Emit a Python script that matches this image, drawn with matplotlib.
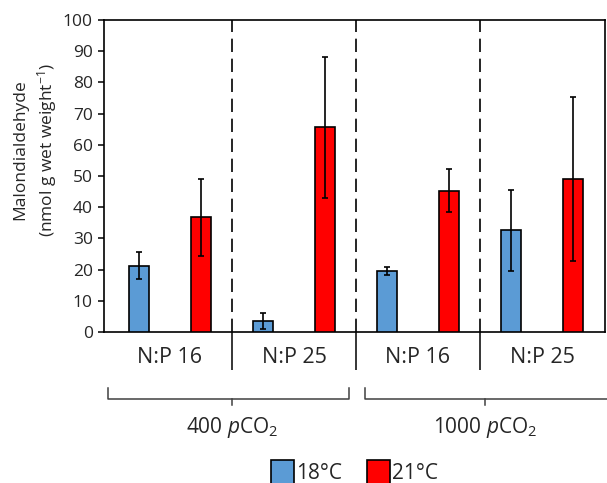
import numpy as np
import matplotlib.pyplot as plt
from matplotlib.patches import Patch

plt.rcParams['font.family'] = ['Open Sans', 'DejaVu Sans']
plt.rcParams['mathtext.fontset'] = 'custom'
plt.rcParams['mathtext.rm'] = 'Open Sans'
plt.rcParams['mathtext.it'] = 'Open Sans:italic'

# Data
groups = ["N:P 16", "N:P 25", "N:P 16", "N:P 25"]
co2_labels = [r"400 $\mathit{p}$CO$_\mathregular{2}$", r"1000 $\mathit{p}$CO$_\mathregular{2}$"]
mda_18 = [21.3, 3.6, 19.6, 32.6]
err_18 = [4.2, 2.6, 1.3, 13.0]
mda_21 = [36.8, 65.6, 45.3, 49.1]
err_21 = [12.3, 22.5, 6.9, 26.3]

blue = "#5B9BD5"
red = "#FF0000"
txt = "#262626"

fig = plt.figure(figsize=(6.07, 4.83), dpi=100)
ax = fig.add_axes([104 / 607, 151 / 483, 501 / 607, 312 / 483])

x = np.arange(len(groups))
w = 0.157
ekw = dict(elinewidth=1.2, capthick=1.2, ecolor="black")
ax.bar(x + 0.25, mda_18, w, yerr=err_18, color=blue, edgecolor="black",
       linewidth=1.2, capsize=2.5, error_kw=ekw, zorder=3)
ax.bar(x + 0.75, mda_21, w, yerr=err_21, color=red, edgecolor="black",
       linewidth=1.2, capsize=2.5, error_kw=ekw, zorder=3)

# dashed separators between groups
for xs in x[1:]:
    ax.axvline(xs, color="black", lw=1.2, linestyle=(0, (8, 4)), zorder=1)

ax.set_xlim(-0.032, 4.008)
ax.set_ylim(0, 100)
ax.set_yticks(np.arange(0, 101, 10))
ax.tick_params(axis="y", direction="out", length=4, width=1.1, labelsize=12.5,
               labelcolor=txt, pad=4)
ax.set_xticks(x[1:])
ax.set_xticklabels([])
ax.tick_params(axis="x", direction="out", length=27, width=1.1)
for sp in ax.spines.values():
    sp.set_linewidth(1.2)

ax.text(-0.137, 0.583, "Malondialdehyde\n(nmol g wet weight$^{\\mathregular{-1}}$)",
        transform=ax.transAxes, rotation=90, ha="center", va="center",
        fontsize=12.5, color=txt, linespacing=1.4)

trans = ax.get_xaxis_transform()
for i, g in enumerate(groups):
    ax.text(i + 0.5, -0.083, g, transform=trans, ha="center", va="center",
            fontsize=15.5, color=txt)

# brackets for CO2 levels
brackets = [(0.0, 1.94, 1.0), (2.07, 4.03, 3.04)]
for (x0, x1, xc), lab in zip(brackets, co2_labels):
    ax.plot([x0, x0, x1, x1], [-0.179, -0.215, -0.215, -0.179], transform=trans,
            color="#404040", lw=1.1, clip_on=False)
    ax.plot([xc, xc], [-0.215, -0.234], transform=trans, color="#404040", lw=1.1, clip_on=False)
    ax.text(xc, -0.305, lab, transform=trans, ha="center", va="center",
            fontsize=15, color=txt)

handles = [Patch(facecolor=blue, edgecolor="black", linewidth=1.2, label="18°C"),
           Patch(facecolor=red, edgecolor="black", linewidth=1.2, label="21°C")]
leg = ax.legend(handles=handles, loc="center", bbox_to_anchor=(0.5, -0.45), ncol=2,
                frameon=False, fontsize=15, handlelength=1.1, handleheight=1.5,
                handletextpad=0.1, columnspacing=1.2)
for t in leg.get_texts():
    t.set_color(txt)

fig.savefig("out.png", dpi=100)
